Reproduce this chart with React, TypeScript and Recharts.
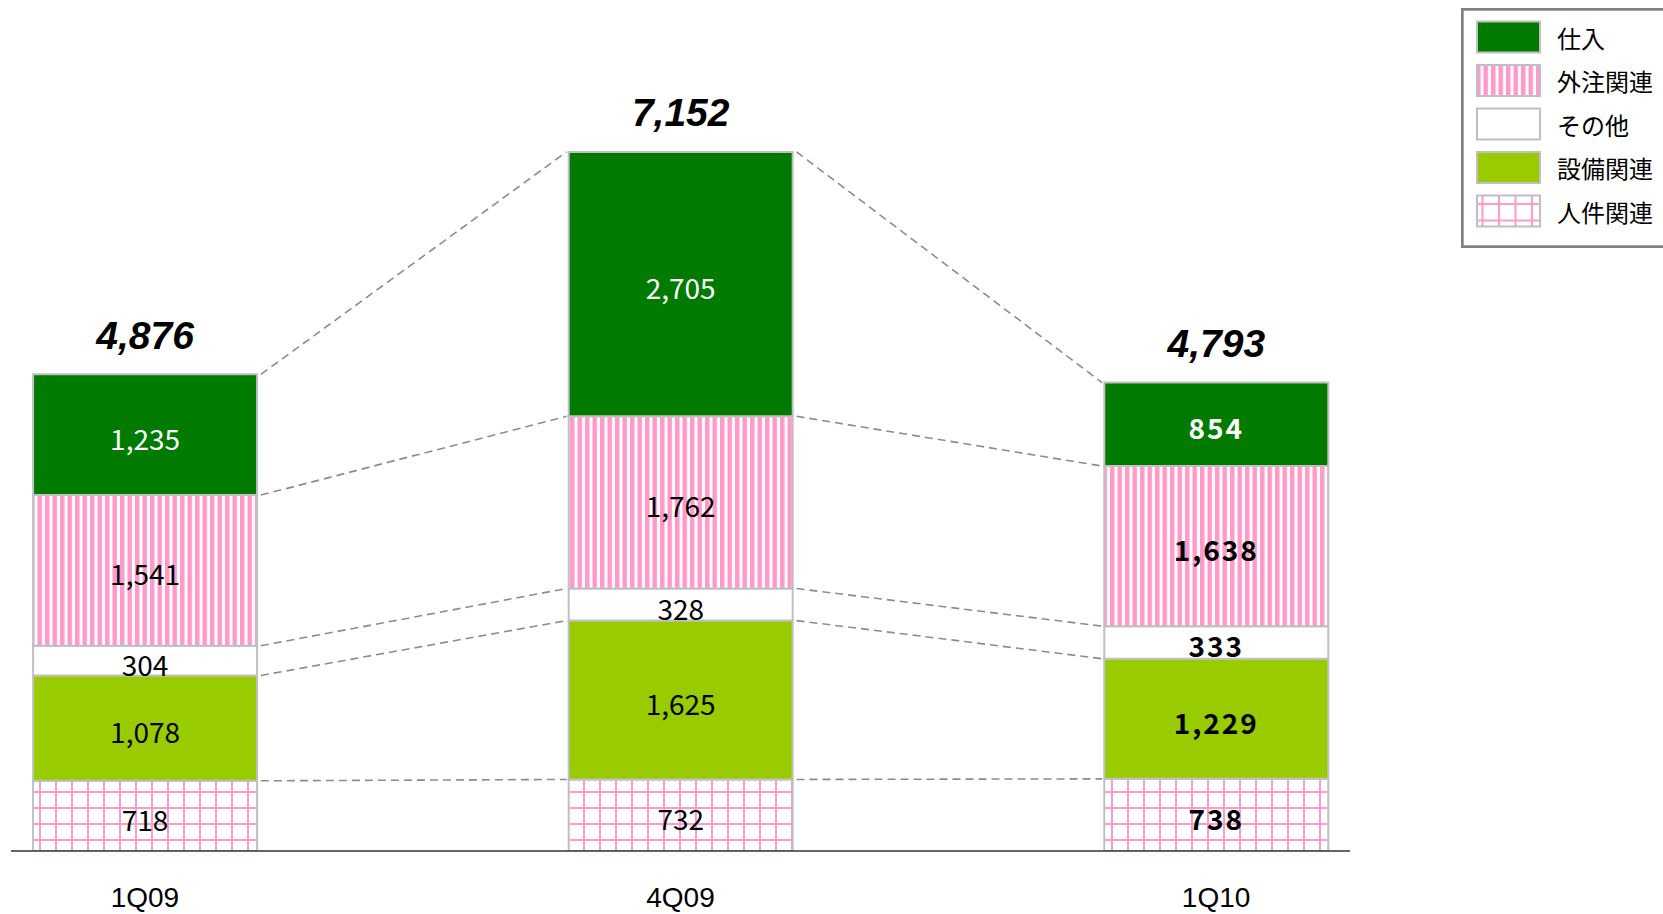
import React from 'react';
import { BarChart, Bar, XAxis, YAxis, LabelList, ReferenceLine, Legend } from 'recharts';

const categories = ['1Q09', '4Q09', '1Q10'];
const jinken = [718, 732, 738];
const setsubi = [1078, 1625, 1229];
const sonota = [304, 328, 333];
const gaichu = [1541, 1762, 1638];
const shiire = [1235, 2705, 854];
const totals = [4876, 7152, 4793];
const boldCategory = [false, false, true];

const seriesKeys = ['jinken', 'setsubi', 'sonota', 'gaichu', 'shiire'];
const seriesNames = ['人件関連', '設備関連', 'その他', '外注関連', '仕入'];
const seriesValues = [jinken, setsubi, sonota, gaichu, shiire];
const seriesFills = ['url(#gridPat)', '#99cc00', '#ffffff', 'url(#stripePat)', '#007b00'];
const legendFills = ['url(#lgGrid)', '#99cc00', '#ffffff', 'url(#lgStripe)', '#007b00'];
const labelColors = ['#000', '#000', '#000', '#000', '#fff'];

const data = categories.map((c, i) => {
  const row: any = { x: i, name: c };
  seriesKeys.forEach((k, s) => (row[k] = seriesValues[s][i]));
  return row;
});

const W = 1663;
const H = 914;
const MARGIN = { top: 69, right: 313, left: 11, bottom: 3 };
const BAR = 224;
const PLOT_W = W - MARGIN.left - MARGIN.right;
const DOMAIN: [number, number] = [-0.25, 2.25];
const PX_PER_UNIT = PLOT_W / (DOMAIN[1] - DOMAIN[0]);

const fmt = (v: number) => v.toLocaleString('en-US');
const FONT = "'Noto Sans CJK JP', 'Noto Sans', sans-serif";

const cumulative = (i: number, k: number) => {
  let s = 0;
  for (let j = 0; j < k; j++) s += seriesValues[j][i];
  return s;
};

const connectors: { x1: number; y1: number; x2: number; y2: number }[] = [];
for (let i = 0; i < categories.length - 1; i++) {
  for (let k = 1; k <= seriesKeys.length; k++) {
    connectors.push({
      x1: i + (BAR / 2 + 4) / PX_PER_UNIT,
      y1: cumulative(i, k),
      x2: i + 1 - (BAR / 2 + 2) / PX_PER_UNIT,
      y2: cumulative(i + 1, k),
    });
  }
}

const makeSegLabel = (color: string) => (props: any) => {
  const { x, y, width, height, value, index } = props;
  const bold = boldCategory[index];
  return (
    <text
      x={x + width / 2}
      y={y + height / 2 + 3}
      textAnchor="middle"
      dominantBaseline="central"
      fill={color}
      fontFamily={FONT}
      fontSize={28}
      fontWeight={bold ? 700 : 400}
      letterSpacing={bold ? 2 : 0}
    >
      {fmt(value)}
    </text>
  );
};

const TotalLabel = (props: any) => {
  const { x, y, width, index } = props;
  return (
    <text
      x={x + width / 2}
      y={y - 39}
      textAnchor="middle"
      dominantBaseline="central"
      fill="#000"
      fontFamily="'Liberation Sans', Arial, sans-serif"
      fontSize={39}
      fontWeight={700}
      fontStyle="italic"
    >
      {fmt(totals[index])}
    </text>
  );
};

const XTick = (props: any) => {
  const { x, y, payload } = props;
  return (
    <text x={x} y={y + 48} textAnchor="middle" fill="#000" fontFamily="'Liberation Sans', Arial, sans-serif" fontSize={28}>
      {categories[payload.value]}
    </text>
  );
};

const LegendBox = () => {
  const order = [4, 3, 2, 1, 0];
  const bw = 230;
  const bh = 240;
  return (
    <svg width={bw} height={bh} style={{ display: 'block' }}>
      <defs>
        <pattern id="lgStripe" patternUnits="userSpaceOnUse" width={7.5} height={10}>
          <rect x={0} y={0} width={7.5} height={10} fill="#fff" />
          <rect x={0} y={0} width={4.5} height={10} fill="#ff99cc" />
        </pattern>
        <pattern id="lgGrid" patternUnits="userSpaceOnUse" width={16.5} height={16.5} x={4} y={-3}>
          <rect x={0} y={0} width={16.5} height={16.5} fill="#fff" />
          <rect x={0} y={0} width={2} height={16.5} fill="#ff99cc" />
          <rect x={0} y={0} width={16.5} height={2} fill="#ff99cc" />
        </pattern>
      </defs>
      <rect x={1.35} y={1.35} width={bw + 20} height={bh - 2.7} fill="#fff" stroke="#808080" strokeWidth={2.7} />
      {order.map((s, r) => {
        const cy = 29 + r * 43.5;
        return (
          <g key={s}>
            <rect x={16} y={cy - 15.5} width={63} height={31} fill={legendFills[s]} stroke="#c0c0c0" strokeWidth={2} />
            <text x={96} y={cy} dominantBaseline="central" fontFamily={FONT} fontSize={24} fill="#000">
              {seriesNames[s]}
            </text>
          </g>
        );
      })}
    </svg>
  );
};

export default function App() {
  return (
    <div style={{ position: 'absolute', left: 0, top: 0, width: W, height: H, background: '#fff', overflow: 'hidden' }}>
      <BarChart width={W} height={H} data={data} margin={MARGIN}>
        <defs>
          <pattern id="stripePat" patternUnits="userSpaceOnUse" width={7.5} height={10}>
            <rect x={0} y={0} width={7.5} height={10} fill="#fff" />
            <rect x={0} y={0} width={4.5} height={10} fill="#ff99cc" />
          </pattern>
          <pattern id="gridPat" patternUnits="userSpaceOnUse" width={16} height={16} x={0} y={0}>
            <rect x={0} y={0} width={16} height={16} fill="#fff" />
            <rect x={7} y={0} width={2} height={16} fill="#ff99cc" />
            <rect x={0} y={7} width={16} height={2} fill="#ff99cc" />
          </pattern>
        </defs>
        <XAxis
          dataKey="x"
          type="number"
          domain={DOMAIN}
          ticks={[0, 1, 2]}
          allowDataOverflow
          height={60}
          axisLine={{ stroke: '#333', strokeWidth: 1.5 }}
          tickLine={false}
          tick={<XTick />}
        />
        <YAxis hide width={0} domain={[0, 8000]} allowDataOverflow />
        <Legend
          layout="vertical"
          align="center"
          verticalAlign="middle"
          wrapperStyle={{ position: 'absolute', left: 1461, top: 8, width: 230, height: 240 }}
          content={() => <LegendBox />}
        />
        {connectors.map((c, i) => (
          <ReferenceLine
            key={'c' + i}
            segment={[
              { x: c.x1, y: c.y1 },
              { x: c.x2, y: c.y2 },
            ]}
            stroke="#8c8c8c"
            strokeWidth={1.6}
            strokeDasharray="8 5"
          />
        ))}
        {seriesKeys.map((k, s) => (
          <Bar
            key={k}
            dataKey={k}
            name={seriesNames[s]}
            stackId="a"
            barSize={BAR}
            fill={seriesFills[s]}
            stroke="#c0c0c0"
            strokeWidth={2}
            isAnimationActive={false}
          >
            <LabelList dataKey={k} content={makeSegLabel(labelColors[s])} />
            {s === seriesKeys.length - 1 ? <LabelList dataKey={k} content={TotalLabel} /> : null}
          </Bar>
        ))}
      </BarChart>
    </div>
  );
}
